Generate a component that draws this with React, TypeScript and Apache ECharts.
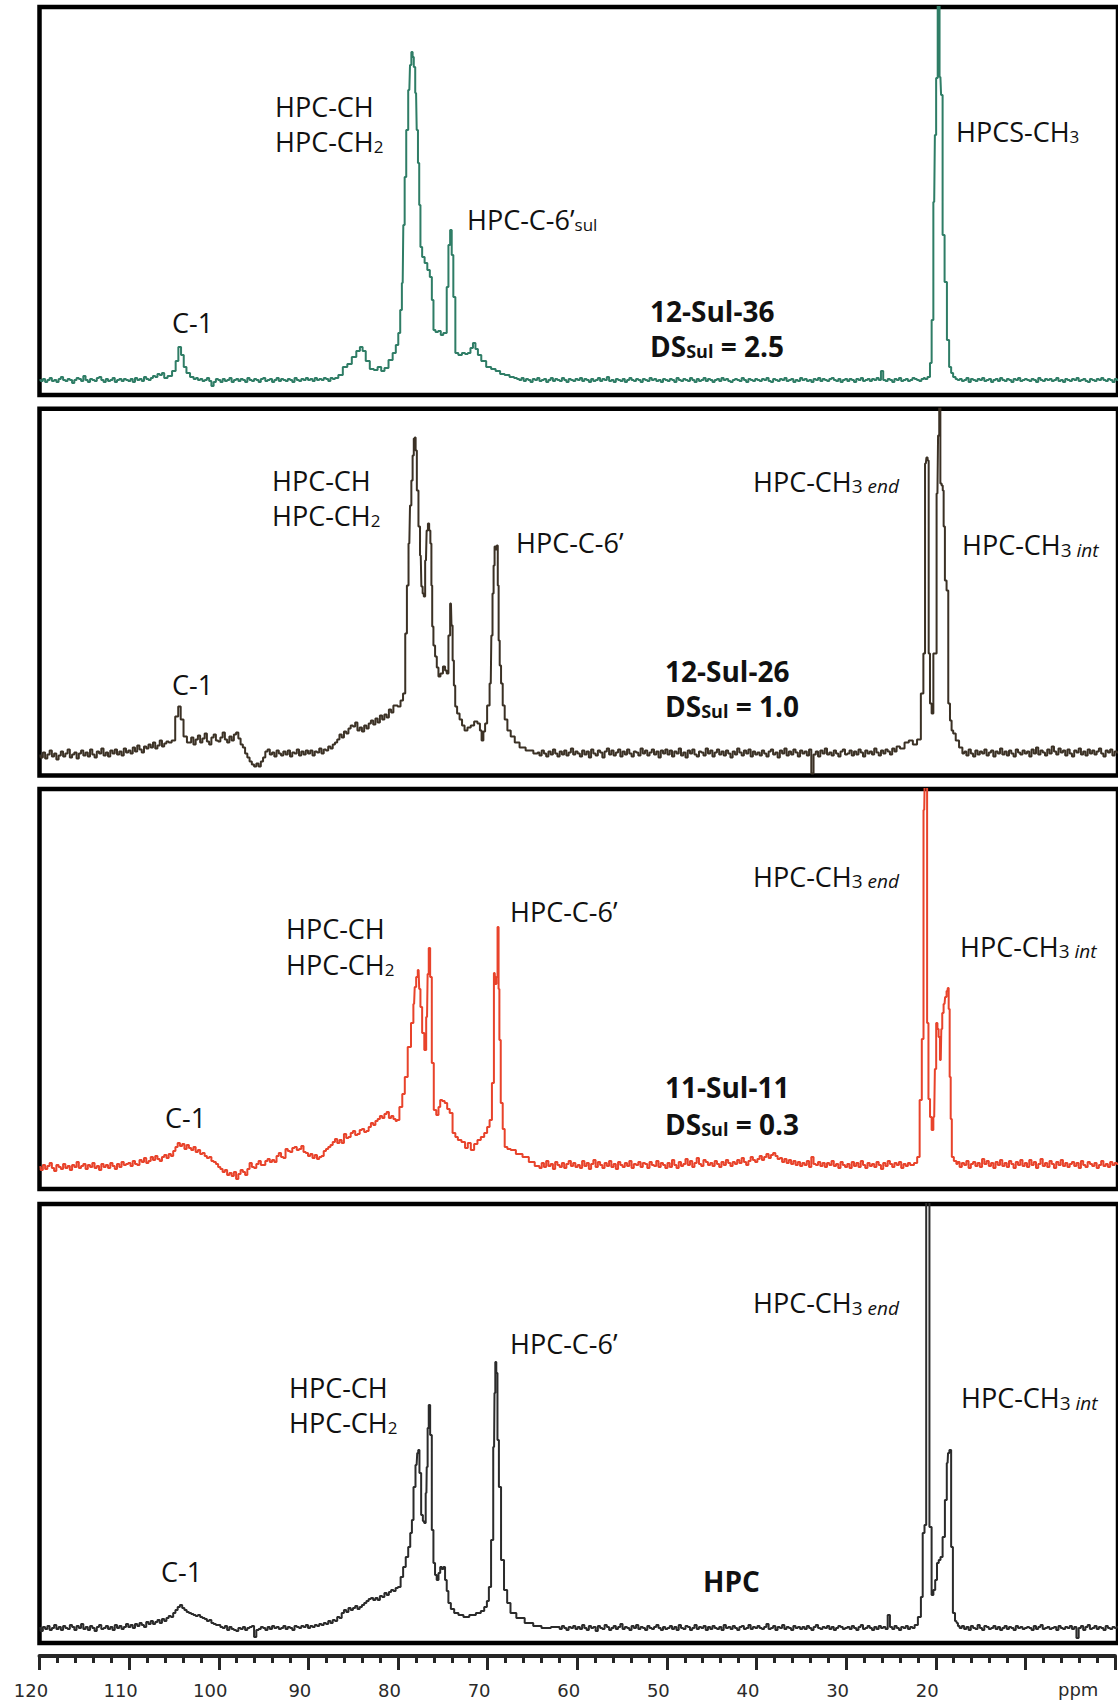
import React, { useEffect, useRef } from "react";
import * as echarts from "echarts";

// ---------- axis ----------
const PPM_MAX = 120;
const PPM_MIN = 0;
const GRID_STEP = 0.25; // ppm spacing of the baseline grids below (40 values per 10 ppm row)
const hiddenTickLabels = [10, 0];

// ---------- spectrum 1 : 12-Sul-36 (green) ----------
const greenGrid = [
  15, 14, 16, 13, 15, 17, 14, 15, 13, 16, 18, 15, 14, 16, 15, 12, 15, 17, 16, 14, 19, 15, 13, 16, 15, 14, 17, 18, 15, 13, 16, 14, 15, 17, 13, 15, 16, 14, 16, 15,
  14, 16, 13, 17, 15, 16, 14, 18, 16, 15, 17, 19, 18, 21, 20, 22, 19, 19, 24, 28, 30, 40, 48, 40, 30, 22, 20, 18, 17, 16, 17, 15, 16, 14, 15, 17, 14, 9, 13, 16,
  15, 13, 16, 14, 15, 17, 13, 15, 16, 14, 16, 15, 13, 17, 15, 14, 16, 15, 13, 16, 17, 14, 15, 16, 13, 15, 17, 14, 16, 15, 14, 16, 15, 13, 17, 15, 14, 16, 15, 17,
  15, 16, 14, 17, 15, 16, 15, 17, 16, 14, 17, 16, 17, 20, 28, 31, 38, 44, 48, 44, 34, 26, 25, 28, 27, 35, 42, 50, 62, 85, 112, 170, 218, 265, 305, 330, 343, 338, 328, 302,
  250, 200, 150, 138, 132, 125, 118, 95, 65, 63, 64, 60, 62, 62, 108, 150, 165, 140, 98, 42, 40, 42, 41, 42, 47, 52, 46, 40, 34, 30, 28, 27, 26, 25, 24, 23, 22, 21, 20, 20,
  28, 26, 25, 24, 23, 22, 21, 20, 19, 18, 18, 17, 17, 16, 15, 17, 14, 16, 15, 13, 16, 15, 17, 14, 15, 16, 13, 15, 17, 14, 16, 15, 14, 17, 15, 13, 16, 15, 14, 16,
  15, 17, 14, 16, 15, 13, 16, 14, 15, 17, 14, 16, 15, 18, 14, 15, 13, 16, 15, 14, 16, 13, 15, 17, 15, 14, 16, 15, 13, 16, 15, 14, 17, 15, 16, 14, 15, 13, 16, 15,
  14, 16, 15, 13, 17, 15, 14, 16, 15, 14, 17, 15, 13, 16, 14, 15, 17, 14, 16, 15, 13, 15, 16, 14, 17, 15, 16, 14, 13, 15, 16, 15, 14, 17, 15, 13, 16, 15, 14, 16,
  15, 14, 16, 15, 17, 14, 13, 16, 15, 14, 16, 15, 17, 14, 15, 16, 13, 15, 14, 17, 15, 16, 14, 15, 13, 16, 15, 17, 14, 16, 15, 14, 16, 17, 15, 14, 16, 13, 15, 16,
  14, 16, 15, 13, 16, 15, 17, 14, 15, 16, 14, 16, 15, 17, 15, 24, 15, 14, 16, 15, 13, 16, 15, 17, 14, 15, 16, 14, 15, 17, 16, 15, 14, 16, 17, 18, 32, 75, 193, 317,
  400, 318, 160, 113, 55, 28, 22, 18, 16, 15, 16, 14, 15, 17, 13, 16, 15, 14, 16, 15, 17, 14, 15, 16, 13, 15, 16, 14, 17, 15, 14, 16, 15, 13, 16, 15, 17, 14, 15, 16,
  15, 14, 16, 15, 13, 17, 15, 14, 16, 15, 16, 14, 15, 17, 14, 15, 13, 16, 15, 14, 16, 15, 17, 14, 15, 16, 14, 13, 16, 15, 14, 16, 15, 17, 15, 14, 16, 15, 13, 16,
  15,
];
const greenC1 = [
  [106, 17], [105.5, 19], [105, 24], [104.7, 34], [104.4, 48], [104.1, 40], [103.8, 28],
  [103.5, 22], [103, 18], [102.7, 16],
];
const greenMain = [
  [87, 17], [86.5, 20], [86, 28], [85.5, 31], [85, 38], [84.5, 44], [84.2, 48], [83.9, 44],
  [83.5, 34], [83, 26], [82.6, 25], [82.16, 28], [81.8, 24], [81.43, 27], [80.9, 35],
  [80.51, 42], [80.2, 50], [79.96, 62], [79.77, 85], [79.59, 112], [79.45, 170], [79.29, 218],
  [79.1, 265], [78.85, 305], [78.7, 330], [78.55, 343], [78.42, 338], [78.29, 328], [78.1, 302],
  [77.96, 265], [77.82, 232], [77.68, 190], [77.55, 148], [77.3, 138], [77.0, 132], [76.7, 125],
  [76.44, 118], [76.25, 95], [76.08, 65], [75.8, 63], [75.5, 64], [75.2, 60], [74.95, 62],
  [74.78, 62], [74.6, 108], [74.4, 150], [74.22, 165], [74.05, 140], [73.86, 98], [73.6, 42],
  [73.2, 40], [72.8, 42], [72.5, 41], [72.2, 42], [71.9, 47], [71.64, 52], [71.35, 46],
  [71.09, 40], [70.6, 34], [70, 28], [69.5, 26], [69, 24], [68.5, 21], [68, 20], [67.4, 18],
  [67, 17],
];
const greenCH3 = [
  [21.4, 16], [21.01, 18], [20.83, 32], [20.64, 75], [20.45, 193], [20.3, 260], [20.17, 317],
  [19.95, 400], [19.76, 318], [19.61, 300], [19.42, 160], [19.17, 113], [18.9, 55],
  [18.68, 28], [18.45, 22], [18.24, 18], [17.9, 16],
];

// ---------- spectrum 2 : 12-Sul-26 (brown) ----------
const brownGrid = [
  20, 18, 23, 17, 21, 25, 19, 22, 16, 20, 24, 19, 22, 26, 18, 21, 23, 17, 22, 25, 20, 23, 19, 26, 21, 18, 24, 22, 27, 20, 23, 19, 25, 22, 26, 21, 24, 20, 27, 23,
  25, 22, 28, 24, 30, 26, 23, 29, 27, 31, 28, 33, 27, 30, 35, 29, 32, 34, 35, 35, 50, 65, 69, 56, 45, 39, 35, 33, 38, 31, 36, 40, 33, 37, 42, 34, 31, 38, 41, 35,
  34, 38, 43, 36, 33, 39, 35, 41, 43, 37, 31, 28, 22, 18, 14, 11, 9, 12, 9, 14, 18, 24, 26, 21, 23, 19, 25, 22, 20, 24, 21, 25, 19, 23, 22, 26, 20, 24, 21, 25,
  22, 25, 20, 24, 23, 27, 22, 26, 25, 29, 27, 31, 33, 36, 41, 38, 44, 42, 47, 50, 49, 53, 45, 48, 44, 50, 47, 52, 55, 51, 57, 53, 60, 56, 61, 58, 66, 63, 70, 69,
  70, 80, 190, 270, 330, 300, 220, 185, 200, 250, 200, 130, 110, 100, 105, 105, 140, 170, 110, 70, 60, 55, 48, 45, 48, 50, 54, 52, 40, 44, 52, 70, 92, 180, 229, 226, 190, 110, 80, 60,
  56, 48, 40, 36, 33, 30, 28, 27, 26, 25, 24, 23, 23, 22, 22, 22, 22, 22, 22, 22, 22, 22, 23, 20, 25, 22, 19, 24, 21, 26, 22, 19, 24, 21, 25, 20, 23, 27, 21, 24,
  22, 19, 25, 21, 24, 18, 26, 22, 20, 25, 23, 18, 24, 27, 21, 25, 20, 23, 26, 19, 24, 21, 26, 22, 19, 24, 23, 20, 27, 22, 25, 20, 23, 26, 21, 24, 18, 25, 22, 26,
  21, 25, 19, 24, 22, 27, 20, 23, 18, 25, 22, 26, 21, 19, 24, 23, 20, 27, 22, 25, 19, 23, 26, 21, 24, 20, 25, 22, 18, 24, 21, 27, 23, 20, 25, 22, 26, 19, 24, 21,
  23, 20, 25, 22, 19, 24, 26, 21, 23, 18, 25, 22, 27, 20, 24, 21, 26, 23, 19, 25, 22, 24, 20, 26, 2, 21, 24, 19, 25, 22, 27, 21, 23, 20, 25, 22, 19, 24, 26, 21,
  22, 25, 20, 24, 21, 26, 23, 19, 25, 22, 24, 21, 27, 23, 20, 25, 22, 26, 24, 21, 27, 24, 29, 27, 33, 35, 31, 36, 82, 122, 312, 318, 122, 72, 62, 122, 282, 400, 290, 249,
  195, 185, 72, 55, 45, 42, 35, 28, 25, 22, 22, 22, 24, 20, 26, 22, 19, 25, 21, 24, 22, 26, 20, 23, 25, 19, 24, 22, 27, 21, 24, 20, 25, 22, 19, 26, 23, 21, 25, 22,
  24, 19, 26, 22, 28, 21, 25, 23, 20, 26, 22, 29, 24, 21, 27, 23, 25, 20, 26, 22, 19, 25, 23, 27, 21, 24, 20, 26, 22, 25, 21, 24, 27, 22, 19, 25, 23, 26, 20, 24,
  23,
];
const brownC1 = [
  [105.5, 33], [105.09, 35], [104.71, 59], [104.42, 69], [104.16, 56], [103.79, 39], [103.4, 33],
];
const brownMain = [
  [80.35, 70], [79.96, 69], [79.7, 75], [79.4, 82], [79.21, 142], [79.03, 190], [78.85, 232],
  [78.7, 270], [78.55, 295], [78.42, 320], [78.29, 337], [78.2, 338], [78.1, 325], [77.93, 285],
  [77.74, 249], [77.58, 220], [77.44, 189], [77.3, 182], [77.18, 179], [77.0, 215], [76.85, 245],
  [76.71, 252], [76.58, 245], [76.44, 232], [76.35, 190], [76.26, 149], [76.08, 130], [75.89, 119],
  [75.7, 108], [75.52, 99], [75.25, 102], [74.97, 109], [74.78, 105], [74.6, 102], [74.4, 140],
  [74.22, 172], [74.1, 150], [73.97, 115], [73.82, 90], [73.67, 69], [73.4, 62], [73.12, 56],
  [72.85, 50], [72.56, 45], [72.2, 48], [71.83, 50], [71.45, 54], [71.09, 52], [70.9, 45],
  [70.72, 35], [70.5, 44], [70.34, 52], [70.05, 70], [69.79, 92], [69.66, 140], [69.53, 182],
  [69.42, 210], [69.31, 229], [69.18, 226], [69.06, 230], [68.96, 190], [68.87, 135], [68.72, 110],
  [68.57, 92], [68.35, 70], [68.13, 56], [67.75, 45], [67.39, 39], [66.85, 33], [66.32, 28],
  [65.5, 25], [64.6, 22],
];
const brownCH3 = [
  [24.52, 29], [24.0, 27], [23.5, 33], [23.05, 35], [22.6, 31], [22.12, 36], [21.75, 82],
  [21.56, 122], [21.38, 312], [21.25, 318], [21.12, 315], [21.01, 122], [20.83, 72], [20.64, 62],
  [20.45, 122], [20.28, 122], [20.09, 282], [19.95, 340], [19.83, 400], [19.7, 292], [19.55, 290],
  [19.45, 285], [19.35, 249], [19.17, 195], [18.98, 185], [18.79, 72], [18.6, 55], [18.43, 45],
  [18.24, 42], [17.87, 35], [17.5, 28], [17.13, 22],
];

// ---------- spectrum 3 : 11-Sul-11 (red) ----------
const redGrid = [
  22, 19, 24, 20, 23, 26, 21, 18, 24, 22, 20, 25, 21, 23, 19, 24, 22, 27, 21, 23, 25, 20, 24, 22, 26, 21, 23, 19, 25, 22, 24, 21, 26, 23, 20, 25, 22, 27, 24, 25,
  26, 23, 28, 25, 24, 29, 27, 31, 26, 28, 32, 29, 33, 30, 28, 32, 34, 31, 35, 33, 38, 42, 46, 43, 45, 40, 44, 41, 39, 42, 37, 39, 35, 36, 33, 31, 32, 28, 27, 25,
  22, 20, 17, 19, 14, 16, 13, 17, 10, 15, 19, 17, 14, 20, 26, 22, 21, 25, 28, 24, 24, 28, 30, 27, 29, 27, 33, 36, 32, 31, 40, 38, 37, 41, 42, 39, 40, 43, 37, 36,
  33, 35, 31, 34, 30, 32, 33, 38, 40, 42, 44, 47, 50, 46, 49, 46, 55, 51, 52, 56, 58, 54, 55, 59, 60, 57, 58, 62, 66, 64, 68, 70, 73, 71, 75, 77, 71, 73, 70, 68,
  69, 82, 95, 112, 142, 166, 202, 212, 219, 200, 156, 139, 172, 241, 212, 126, 79, 74, 82, 89, 88, 86, 80, 76, 56, 52, 49, 47, 41, 46, 39, 45, 49, 52, 56, 62, 69, 106, 216, 262,
  149, 86, 60, 42, 40, 39, 37, 35, 33, 32, 31, 30, 29, 28, 27, 26, 25, 24, 24, 23, 23, 23, 23, 21, 26, 22, 28, 23, 25, 20, 27, 24, 22, 26, 21, 25, 28, 23, 26, 22,
  24, 21, 28, 23, 26, 20, 25, 29, 22, 27, 24, 21, 26, 23, 28, 22, 25, 20, 27, 24, 22, 26, 23, 28, 21, 25, 24, 27, 22, 26, 25, 21, 27, 24, 23, 28, 22, 26, 24, 21,
  26, 22, 29, 24, 21, 27, 23, 25, 30, 24, 28, 22, 26, 31, 25, 23, 29, 27, 24, 26, 23, 28, 25, 22, 27, 24, 29, 26, 23, 27, 25, 29, 26, 31, 27, 24, 28, 32, 29, 27,
  30, 33, 29, 32, 35, 31, 34, 36, 33, 30, 31, 27, 30, 26, 29, 25, 28, 24, 27, 23, 26, 24, 28, 22, 32, 25, 24, 27, 23, 26, 22, 26, 24, 28, 23, 25, 21, 27, 24, 22,
  25, 21, 27, 23, 26, 22, 28, 24, 21, 26, 23, 25, 22, 27, 24, 20, 26, 23, 28, 25, 22, 26, 24, 27, 21, 25, 23, 26, 24, 26, 89, 379, 420, 420, 90, 72, 59, 72, 120, 166,
  152, 129, 176, 192, 198, 180, 70, 28, 25, 27, 22, 26, 24, 28, 21, 25, 27, 23, 26, 22, 30, 25, 28, 23, 26, 21, 27, 24, 29, 23, 26, 22, 28, 25, 21, 27, 24, 29, 23, 26,
  22, 29, 24, 27, 21, 25, 30, 23, 26, 22, 28, 25, 21, 27, 24, 29, 23, 26, 22, 25, 27, 23, 26, 21, 28, 24, 22, 27, 25, 23, 26, 21, 24, 28, 23, 25, 22, 27, 24, 26,
  25,
];
const redMain = [
  [80.14, 69], [79.77, 82], [79.5, 95], [79.21, 112], [78.85, 142], [78.48, 166], [78.32, 185],
  [78.18, 202], [78.0, 212], [77.82, 219], [77.68, 200], [77.55, 182], [77.3, 156], [77.07, 139],
  [76.88, 172], [76.75, 215], [76.63, 241], [76.44, 212], [76.26, 126], [76.0, 79], [75.71, 74],
  [75.5, 82], [75.33, 89], [75.05, 88], [74.78, 86], [74.5, 80], [74.22, 76], [73.86, 56],
  [73.6, 52], [73.3, 49], [72.8, 47], [72.5, 41], [72.19, 46], [71.83, 39], [71.45, 45],
  [71.09, 49], [70.7, 52], [70.34, 56], [70.05, 62], [69.79, 69], [69.53, 106], [69.35, 216],
  [69.22, 205], [69.1, 212], [68.97, 262], [68.87, 200], [68.79, 149], [68.57, 86], [68.35, 60],
  [68.13, 42], [67.75, 40], [67.39, 39], [66.6, 35], [65.91, 32], [65.2, 27], [64.6, 23],
];
const redCH3 = [
  [22.9, 24], [22.49, 26], [22.2, 32], [21.94, 89], [21.72, 150], [21.56, 379], [21.42, 420],
  [21.3, 420], [21.18, 166], [21.0, 90], [20.83, 72], [20.64, 59], [20.45, 72], [20.3, 120],
  [20.16, 166], [20.02, 160], [19.9, 152], [19.72, 129], [19.6, 160], [19.51, 176], [19.3, 185],
  [19.17, 192], [18.98, 198], [18.9, 201], [18.78, 180], [18.68, 112], [18.55, 70], [18.43, 32],
  [18.1, 28], [17.87, 25],
];

// ---------- spectrum 4 : HPC (dark grey) ----------
const grayGrid = [
  15, 12, 16, 14, 17, 13, 15, 18, 14, 16, 13, 17, 15, 14, 18, 16, 13, 17, 15, 19, 14, 16, 13, 17, 15, 12, 16, 18, 14, 15, 17, 14, 16, 13, 18, 15, 17, 14, 16, 19,
  16, 18, 15, 19, 17, 20, 18, 16, 21, 19, 22, 19, 21, 23, 20, 24, 22, 25, 27, 26, 30, 33, 36, 38, 35, 33, 31, 30, 29, 28, 27, 28, 26, 25, 24, 22, 23, 20, 19, 18,
  18, 16, 15, 17, 13, 16, 14, 13, 12, 15, 14, 16, 13, 15, 16, 17, 6, 13, 14, 16, 15, 13, 16, 14, 17, 15, 16, 14, 15, 17, 14, 16, 15, 13, 17, 16, 15, 17, 16, 18,
  15, 17, 16, 18, 17, 19, 18, 20, 19, 22, 20, 23, 22, 26, 25, 30, 33, 31, 35, 33, 35, 37, 34, 36, 38, 40, 42, 44, 45, 43, 45, 43, 47, 46, 50, 48, 51, 53, 52, 55,
  56, 66, 76, 86, 96, 123, 156, 183, 192, 170, 128, 120, 150, 215, 238, 208, 113, 80, 68, 63, 70, 76, 74, 76, 63, 52, 40, 34, 32, 30, 28, 27, 26, 27, 28, 29, 30, 32, 34, 40,
  42, 56, 103, 196, 281, 270, 203, 156, 83, 53, 40, 30, 28, 27, 25, 23, 22, 20, 19, 18, 17, 17, 16, 16, 15, 15, 15, 16, 16, 15, 16, 16, 14, 17, 15, 13, 16, 15, 17, 14,
  16, 14, 18, 15, 13, 17, 15, 16, 12, 17, 15, 14, 18, 16, 13, 15, 17, 14, 16, 19, 14, 16, 15, 13, 17, 15, 18, 14, 16, 15, 13, 17, 15, 14, 16, 18, 15, 13, 16, 14,
  15, 17, 14, 16, 13, 18, 15, 14, 17, 16, 13, 15, 18, 14, 16, 15, 17, 13, 16, 14, 17, 15, 14, 16, 13, 18, 15, 16, 14, 17, 15, 13, 16, 17, 14, 15, 18, 14, 16, 15,
  17, 15, 14, 16, 19, 14, 15, 17, 13, 16, 15, 18, 14, 16, 15, 13, 17, 15, 16, 14, 16, 14, 17, 15, 13, 16, 18, 15, 14, 16, 15, 17, 14, 16, 13, 15, 17, 16, 14, 15,
  16, 14, 17, 15, 13, 16, 18, 14, 15, 17, 15, 13, 16, 14, 17, 15, 16, 14, 28, 16, 14, 17, 15, 13, 16, 15, 17, 14, 16, 15, 18, 26, 46, 110, 118, 450, 450, 116, 48, 53,
  80, 83, 106, 180, 193, 96, 30, 22, 20, 17, 15, 17, 14, 16, 13, 17, 15, 14, 18, 15, 13, 17, 16, 14, 15, 17, 14, 16, 13, 15, 17, 14, 16, 15, 13, 17, 15, 16, 14, 15,
  16, 15, 13, 17, 14, 16, 18, 14, 15, 16, 14, 15, 16, 13, 17, 15, 14, 16, 15, 17, 14, 16, 5, 15, 17, 13, 16, 18, 14, 15, 17, 14, 16, 15, 13, 17, 15, 14, 16, 15,
  16,
];
const grayMain = [
  [79.96, 56], [79.68, 66], [79.4, 76], [79.1, 86], [78.85, 96], [78.65, 110], [78.48, 123],
  [78.29, 156], [78.04, 178], [77.9, 190], [77.82, 193], [77.63, 170], [77.44, 128], [77.25, 122],
  [77.11, 120], [76.95, 150], [76.88, 176], [76.75, 215], [76.63, 238], [76.44, 208], [76.26, 113],
  [76.08, 80], [75.9, 68], [75.71, 63], [75.5, 70], [75.33, 76], [75.15, 74], [74.97, 76],
  [74.78, 63], [74.6, 52], [74.41, 40], [74.05, 34], [73.67, 30], [73.1, 28], [72.56, 26],
  [71.8, 28], [71.09, 30], [70.7, 32], [70.34, 36], [70.1, 42], [69.9, 56], [69.61, 103],
  [69.42, 196], [69.33, 250], [69.24, 281], [69.11, 270], [68.98, 203], [68.79, 156], [68.5, 83],
  [68.13, 53], [67.8, 40], [67.39, 30], [66.5, 25], [65.53, 20], [64.6, 17], [63.69, 15], [62.5, 16],
];
const grayCH3 = [
  [22.5, 18], [22.03, 26], [21.83, 46], [21.63, 110], [21.43, 118], [21.25, 450], [21.12, 450],
  [20.84, 116], [20.64, 48], [20.44, 53], [20.24, 63], [20.04, 80], [19.85, 83], [19.65, 86],
  [19.38, 106], [19.14, 143], [18.96, 180], [18.86, 190], [18.66, 193], [18.47, 96], [18.27, 30],
  [18.0, 22], [17.87, 20],
];

// ---------- helpers ----------
function buildSpectrum(grid: number[], clusters: number[][][]) {
  const ranges = clusters.map((c) => {
    const xs = c.map((p) => p[0]);
    return [Math.min(...xs), Math.max(...xs)];
  });
  const pts: number[][] = [];
  grid.forEach((v, i) => {
    const x = PPM_MAX - i * GRID_STEP;
    if (x < PPM_MIN) return;
    if (!ranges.some(([lo, hi]) => x >= lo && x <= hi)) pts.push([x, v]);
  });
  clusters.forEach((c) => c.forEach((p) => pts.push([p[0], p[1]])));
  pts.sort((a, b) => b[0] - a[0]);
  return pts;
}

const FONT = "'Open Sans', 'Noto Sans', sans-serif";
const AXFONT = "'DejaVu Sans', 'Liberation Sans', sans-serif";
const INK = "#111";

const rich = {
  r: { fontFamily: FONT, fontSize: 27, fill: INK },
  s: { fontFamily: FONT, fontSize: 17, fill: INK, padding: [10, 0, 0, 0] },
  t: { fontFamily: FONT, fontSize: 19, fill: INK, padding: [10, 0, 0, 0] },
  i: { fontFamily: FONT, fontSize: 19, fontStyle: "italic", fill: INK, padding: [10, 0, 0, 0] },
  b: { fontFamily: FONT, fontSize: 28, fontWeight: "bold", fill: INK },
  bs: { fontFamily: FONT, fontSize: 18, fontWeight: "bold", fill: INK, padding: [10, 0, 0, 0] },
};

// [left x, baseline y, rich text]
const labels: [number, number, string][] = [
  [275, 117, "{r|HPC-CH}"],
  [275, 152, "{r|HPC-CH}{s|2}"],
  [467, 230, "{r|HPC-C-6’}{s|sul}"],
  [172, 333, "{r|C-1}"],
  [650, 321.5, "{b|12-Sul-36}"],
  [650, 356.5, "{b|DS}{bs|Sul}{b| = 2.5}"],
  [956, 141.5, "{r|HPCS-CH}{s|3}"],

  [272, 490.5, "{r|HPC-CH}"],
  [272, 526, "{r|HPC-CH}{s|2}"],
  [172, 695, "{r|C-1}"],
  [516, 553, "{r|HPC-C-6’}"],
  [665, 681.5, "{b|12-Sul-26}"],
  [665, 716.5, "{b|DS}{bs|Sul}{b| = 1.0}"],
  [753, 491.5, "{r|HPC-CH}{t|3 }{i|end}"],
  [962, 555, "{r|HPC-CH}{t|3 }{i|int}"],

  [286, 939, "{r|HPC-CH}"],
  [286, 975, "{r|HPC-CH}{s|2}"],
  [165, 1128, "{r|C-1}"],
  [510, 921.5, "{r|HPC-C-6’}"],
  [665, 1098, "{b|11-Sul-11}"],
  [665, 1135, "{b|DS}{bs|Sul}{b| = 0.3}"],
  [753, 886.5, "{r|HPC-CH}{t|3 }{i|end}"],
  [960, 956.5, "{r|HPC-CH}{t|3 }{i|int}"],

  [289, 1398, "{r|HPC-CH}"],
  [289, 1433, "{r|HPC-CH}{s|2}"],
  [161, 1581.5, "{r|C-1}"],
  [510, 1354, "{r|HPC-C-6’}"],
  [703, 1591.5, "{b|HPC}"],
  [753, 1313, "{r|HPC-CH}{t|3 }{i|end}"],
  [961, 1408, "{r|HPC-CH}{t|3 }{i|int}"],
];

const GRID_LEFT = 39.5;
const GRID_RIGHT = -3.2;

export default function App() {
  const ref = useRef<HTMLDivElement>(null);

  useEffect(() => {
    if (!ref.current) return;
    const chart = echarts.init(ref.current, undefined, { renderer: "svg" });

    const panels = [
      { top: 7, height: 388, color: "#2f7d66", data: buildSpectrum(greenGrid, [greenC1, greenMain, greenCH3]) },
      { top: 408.7, height: 366.8, color: "#3b3125", data: buildSpectrum(brownGrid, [brownC1, brownMain, brownCH3]) },
      { top: 789, height: 400, color: "#e8432b", data: buildSpectrum(redGrid, [redMain, redCH3]) },
      { top: 1204, height: 439, color: "#2b2b2b", data: buildSpectrum(grayGrid, [grayMain, grayCH3]) },
    ];

    const grids: any[] = panels.map((p) => ({
      left: GRID_LEFT,
      right: GRID_RIGHT,
      top: p.top,
      height: p.height,
      show: true,
      borderColor: "#000",
      borderWidth: 4.5,
      backgroundColor: "transparent",
    }));
    grids.push({ left: GRID_LEFT, right: GRID_RIGHT, top: 1646, height: 10, show: false });

    const xAxes: any[] = panels.map((_, i) => ({
      type: "value",
      gridIndex: i,
      min: PPM_MIN,
      max: PPM_MAX,
      inverse: true,
      show: false,
    }));
    xAxes.push({
      type: "value",
      gridIndex: 4,
      min: PPM_MIN,
      max: PPM_MAX,
      interval: 10,
      inverse: true,
      position: "bottom",
      axisLine: { show: true, lineStyle: { color: "#262626", width: 4 } },
      axisTick: { show: true, inside: false, length: 14, lineStyle: { color: "#262626", width: 3 } },
      minorTick: { show: true, splitNumber: 5, length: 7, lineStyle: { color: "#262626", width: 3 } },
      splitLine: { show: false },
      minorSplitLine: { show: false },
      axisLabel: {
        show: true,
        margin: 25,
        interval: 0,
        showMinLabel: true,
        showMaxLabel: true,
        fontFamily: AXFONT,
        fontSize: 18,
        color: "#2a2a2a",
        padding: [0, 17, 0, 0],
        formatter: (v: number) => (hiddenTickLabels.includes(v) ? "" : String(v)),
      },
    });

    const yAxes: any[] = panels.map((p, i) => ({
      type: "value",
      gridIndex: i,
      min: 0,
      max: p.height,
      show: false,
    }));
    yAxes.push({ type: "value", gridIndex: 4, min: 0, max: 1, show: false });

    const series = panels.map((p, i) => ({
      type: "line",
      xAxisIndex: i,
      yAxisIndex: i,
      data: p.data,
      step: "middle",
      showSymbol: false,
      symbol: "none",
      silent: true,
      clip: true,
      lineStyle: { color: p.color, width: 2 },
      itemStyle: { color: p.color },
    }));

    const graphic: any[] = labels.map(([x, base, text]) => {
      const bold = text.startsWith("{b|");
      return {
        type: "text",
        x,
        y: base - (bold ? 10.9 : 10.5),
        silent: true,
        style: {
          text,
          rich,
          fontFamily: FONT,
          fontSize: bold ? 28 : 27,
          fill: INK,
          align: "left",
          verticalAlign: "middle",
        },
      };
    });
    graphic.push({
      type: "text",
      x: 1058,
      y: 1689,
      silent: true,
      style: {
        text: "ppm",
        fontFamily: AXFONT,
        fontSize: 18,
        fill: "#2a2a2a",
        align: "left",
        verticalAlign: "middle",
      },
    });

    chart.setOption({
      animation: false,
      backgroundColor: "#ffffff",
      grid: grids,
      xAxis: xAxes,
      yAxis: yAxes,
      series,
      graphic,
    });

    return () => chart.dispose();
  }, []);

  return (
    <div
      ref={ref}
      style={{ position: "absolute", left: 0, top: 0, width: 1118, height: 1701, background: "#fff" }}
    />
  );
}
